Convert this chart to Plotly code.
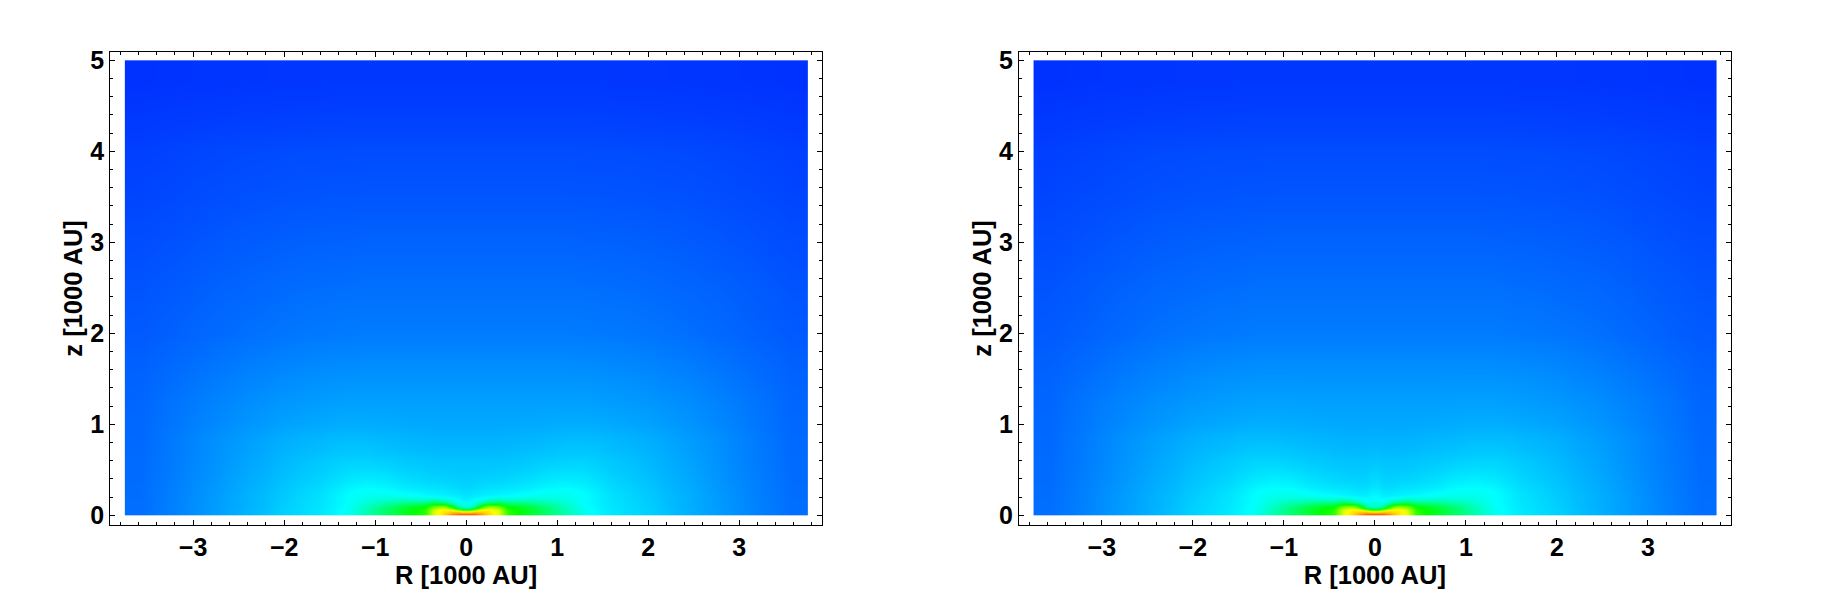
import plotly.graph_objects as go

# cell edges in 1000 AU (right half, mirrored for the left half)
r_edges = [0, 0.06, 0.12, 0.2, 0.3, 0.4, 0.5, 0.65, 0.8, 1.0, 1.2, 1.4, 1.6, 1.9, 2.2, 2.6, 3.0, 3.4, 3.75]
z_edges = [0, 0.02, 0.05, 0.08, 0.12, 0.17, 0.25, 0.35, 0.5, 0.7, 1.0, 1.5, 2.0, 3.0, 4.0, 4.5, 5.0]

# colour level: 0 blue, 255 cyan, 510 green, 765 yellow, 1020 red
# one row per z cell, columns run from R=0 outwards
left_rows = [
    [950, 930, 880, 800, 740, 560, 510, 460, 400, 330, 268, 240, 222, 205, 180, 155, 130, 110],
    [800, 830, 820, 790, 740, 560, 510, 460, 398, 328, 266, 240, 222, 205, 180, 155, 130, 110],
    [470, 600, 730, 775, 720, 545, 505, 460, 395, 325, 264, 240, 222, 205, 180, 155, 130, 110],
    [300, 340, 520, 660, 620, 510, 480, 440, 380, 315, 260, 238, 221, 204, 179, 154, 130, 110],
    [250, 265, 300, 360, 400, 360, 360, 350, 325, 290, 254, 236, 220, 202, 178, 154, 129, 110],
    [232, 238, 240, 245, 250, 255, 262, 268, 275, 272, 256, 235, 218, 200, 178, 153, 129, 109],
    [215, 218, 222, 226, 228, 230, 234, 240, 250, 255, 245, 228, 212, 196, 175, 151, 128, 109],
    [205, 206, 207, 208, 210, 212, 216, 220, 228, 232, 228, 216, 204, 190, 171, 148, 126, 108],
    [195, 195, 195, 195, 196, 197, 199, 202, 206, 210, 210, 204, 195, 183, 166, 145, 124, 107],
    [178, 178, 178, 178, 178, 179, 180, 182, 184, 188, 188, 186, 180, 173, 159, 142, 123, 105],
    [160, 160, 160, 160, 160, 160, 160, 160, 160, 160, 160, 158, 155, 150, 142, 130, 116, 102],
    [136, 136, 136, 136, 136, 136, 136, 136, 136, 136, 135, 134, 132, 128, 122, 113, 104, 95],
    [112, 112, 112, 112, 112, 112, 112, 112, 112, 112, 111, 110, 109, 106, 102, 97, 90, 84],
    [86, 86, 86, 86, 86, 86, 86, 86, 86, 86, 85, 85, 84, 83, 81, 77, 73, 69],
    [68, 68, 68, 68, 68, 68, 68, 68, 68, 68, 68, 67, 67, 66, 65, 63, 61, 58],
    [55, 55, 55, 55, 55, 55, 55, 55, 55, 55, 55, 55, 54, 54, 53, 52, 51, 50],
]
right_rows = [
    [950, 930, 880, 800, 740, 560, 510, 460, 405, 335, 272, 243, 224, 206, 181, 156, 131, 110],
    [800, 830, 820, 790, 740, 560, 510, 460, 403, 333, 270, 243, 224, 206, 181, 156, 131, 110],
    [490, 600, 730, 775, 720, 545, 505, 460, 400, 330, 268, 243, 224, 206, 181, 155, 130, 110],
    [320, 340, 520, 660, 620, 510, 480, 440, 385, 320, 264, 241, 223, 205, 180, 155, 130, 110],
    [270, 270, 300, 360, 400, 360, 360, 350, 328, 295, 258, 239, 222, 203, 179, 155, 129, 110],
    [250, 242, 240, 245, 250, 255, 262, 269, 277, 275, 260, 238, 220, 201, 179, 154, 129, 109],
    [232, 222, 222, 226, 228, 230, 235, 242, 253, 258, 249, 231, 214, 197, 176, 152, 128, 109],
    [214, 208, 207, 208, 210, 212, 217, 222, 231, 235, 231, 219, 206, 191, 172, 149, 126, 108],
    [198, 196, 195, 195, 196, 197, 200, 203, 208, 212, 212, 206, 197, 184, 167, 146, 124, 107],
    [179, 178, 178, 178, 178, 179, 181, 183, 185, 189, 189, 187, 181, 174, 160, 143, 123, 105],
    [160, 160, 160, 160, 160, 160, 160, 160, 161, 161, 161, 159, 156, 151, 143, 131, 117, 102],
    [136, 136, 136, 136, 136, 136, 136, 136, 136, 136, 136, 135, 133, 129, 123, 114, 104, 95],
    [112, 112, 112, 112, 112, 112, 112, 112, 112, 112, 112, 110, 109, 106, 103, 97, 90, 84],
    [86, 86, 86, 86, 86, 86, 86, 86, 86, 86, 85, 85, 84, 83, 81, 77, 73, 69],
    [68, 68, 68, 68, 68, 68, 68, 68, 68, 68, 68, 67, 67, 66, 65, 63, 61, 58],
    [55, 55, 55, 55, 55, 55, 55, 55, 55, 55, 55, 55, 54, 54, 53, 52, 51, 50],
]

x_ticks = [-3, -2, -1, 0, 1, 2, 3]
y_ticks = [0, 1, 2, 3, 4, 5]
x_title = "R [1000 AU]"
y_title = "z [1000 AU]"

# the page body keeps its default 8px margin, so the figure sits 8px in
PAGE_MARGIN = 8
WIDTH = 1826 - 2 * PAGE_MARGIN
HEIGHT = 607 - 2 * PAGE_MARGIN

colorscale = [[0, "#0000ff"], [0.25, "#00ffff"], [0.5, "#00ff00"], [0.75, "#ffff00"], [1, "#ff0000"]]

fig = go.Figure()

x_all = [-e for e in r_edges[:0:-1]] + r_edges
for i, rows in enumerate([left_rows, right_rows]):
    z_all = [row[::-1] + row for row in rows]
    fig.add_trace(go.Heatmap(
        x=x_all, y=z_edges, z=z_all,
        xaxis="x" if i == 0 else "x2", yaxis="y" if i == 0 else "y2",
        colorscale=colorscale, zmin=0, zmax=1020,
        zsmooth="best", showscale=False,
    ))

axis_common = dict(
    showgrid=False, zeroline=False, automargin=False,
    showline=True, linecolor="black", linewidth=1.2, mirror="allticks",
    ticks="inside", ticklen=5, tickwidth=1, tickcolor="black",
    tickmode="array",
    tickfont=dict(family="Liberation Sans", size=25, color="black", weight="bold"),
)
title_font = dict(family="Liberation Sans", size=25.5, color="black", weight="bold")


def x_axis(left, right, anchor):
    return dict(
        axis_common,
        domain=[(left - PAGE_MARGIN) / WIDTH, (right - PAGE_MARGIN) / WIDTH], anchor=anchor, range=[-3.91, 3.91],
        tickvals=x_ticks,
        minor=dict(dtick=0.2, tick0=0, ticks="inside", ticklen=3, tickwidth=1, tickcolor="black", showgrid=False),
        title=dict(text=x_title, font=title_font, standoff=0),
    )


def y_axis(anchor):
    return dict(
        axis_common,
        domain=[1 - (525.3 - PAGE_MARGIN) / HEIGHT, 1 - (51.5 - PAGE_MARGIN) / HEIGHT], anchor=anchor, range=[-0.11, 5.097],
        tickvals=y_ticks,
        minor=dict(dtick=0.2, tick0=0, ticks="inside", ticklen=3, tickwidth=1, tickcolor="black", showgrid=False),
        title=dict(text=y_title, font=title_font, standoff=0),
    )


fig.update_layout(
    width=WIDTH, height=HEIGHT, autosize=False,
    margin=dict(l=0, r=0, t=0, b=0),
    paper_bgcolor="white", plot_bgcolor="white",
    showlegend=False,
    xaxis=x_axis(110.3, 822, "y"),
    yaxis=y_axis("x"),
    xaxis2=x_axis(1019, 1730.7, "y2"),
    yaxis2=y_axis("x2"),
)

fig.write_html("out.html")
